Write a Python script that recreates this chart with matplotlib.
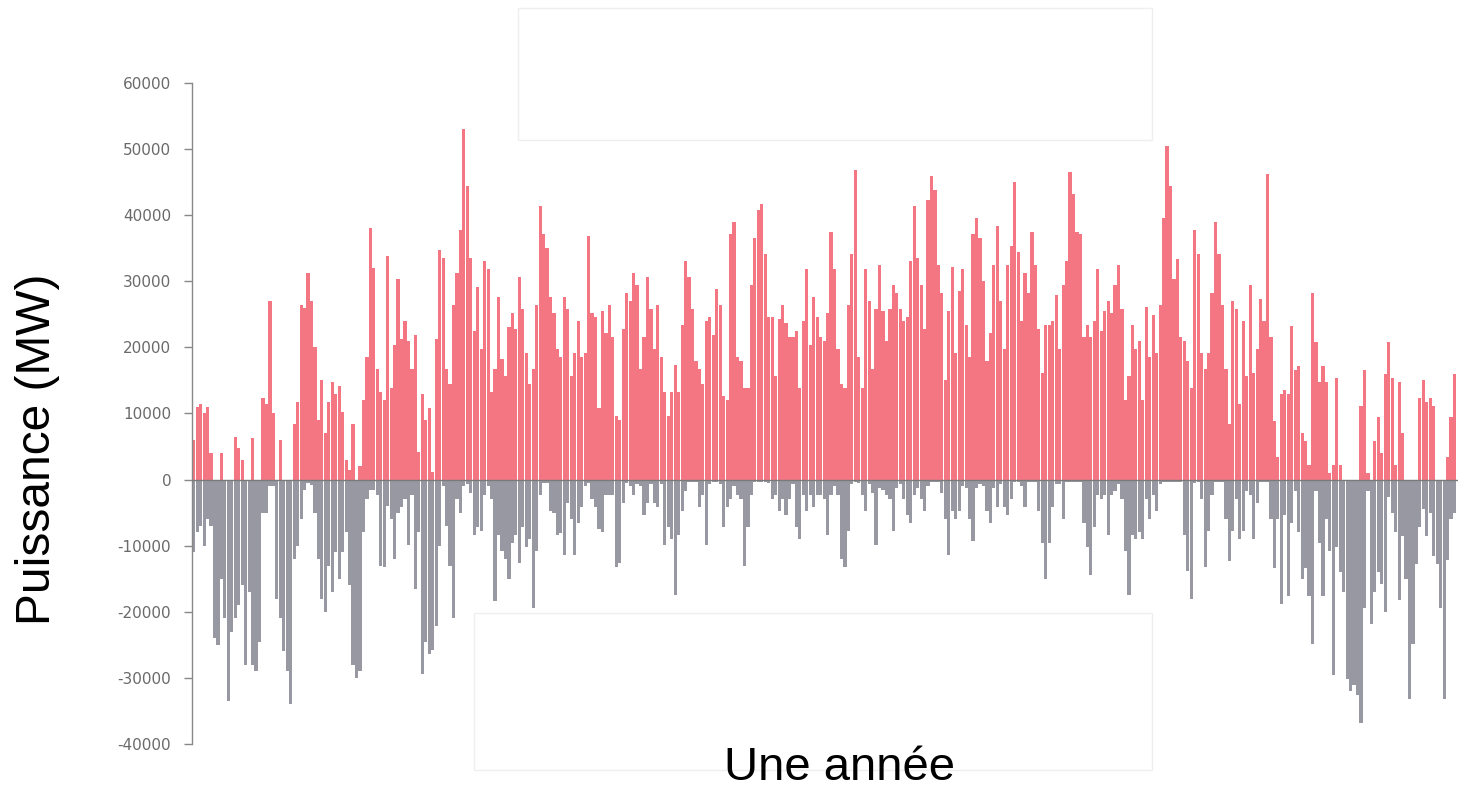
import matplotlib
matplotlib.use("Agg")
import matplotlib.pyplot as plt
from matplotlib.patches import Rectangle
import numpy as np

# Daily surplus (positive, MW) and deficit (negative, MW) over one year
surplus = [
    6000, 11000, 11500, 10000, 11000, 4000, 0, 0, 4000, 0,
    0, 0, 6500, 4800, 3000, 0, 0, 6300, 0, 0,
    12300, 11400, 27000, 10000, 0, 6000, 0, 0, 0, 8400,
    11700, 26400, 26000, 31200, 27000, 20000, 9000, 15000, 7000, 11700,
    14700, 13000, 14100, 10200, 3000, 1500, 8400, 0, 2000, 12000,
    18600, 38100, 32000,
    16800, 13200, 12000, 33900, 13800, 20400, 30300, 21300, 24000, 21000,
    16800, 21900, 4200, 12900, 9000, 10800, 1200, 21300, 34800, 33600,
    16800, 14400, 26400, 31200, 37800, 53100, 44400, 33600, 22500, 29100,
    19800, 33000, 31800, 13200, 16800, 27600, 18300, 15600, 23100, 25200,
    22800, 30600, 25800, 19200, 14400, 16800, 26400, 41400, 37200, 35100,
    27600, 25200,
    19800, 18600, 27600, 25800, 15600, 19200, 24000, 18600, 19200, 36900,
    25200, 24600, 10800, 25500, 22200, 26400, 21600, 9600, 9000, 22800,
    28200, 27000, 31200, 29400, 16800, 21600, 30600, 25800, 19800, 26400,
    18600, 13200, 9600, 13200, 17400, 13200, 23400, 33000, 30600, 25800,
    18000, 16800, 14400, 24000, 24600, 21900, 28800, 26400, 12600, 12000,
    37200,
    39000, 18600, 18000, 13800, 13800, 29400, 36600, 40800, 41700, 34200,
    24600, 24600, 15600, 24300, 26400, 23700, 21600, 21600, 22500, 13800,
    24000, 31800, 20400, 27600, 24600, 21600, 21000, 25200, 37500, 31800,
    19800, 14400, 13800, 26400, 34200, 46800, 18600, 13800, 31800, 27000,
    16800, 25800, 32400, 25500, 21000, 25800, 29400, 28200, 25800, 24000,
    24600, 33000,
    41400, 33600, 29400, 22800, 42300, 45900, 43800, 32400, 28200, 15000,
    25500, 32100, 19200, 28500, 31800, 23400, 18600, 37200, 39600, 36600,
    30000, 18000, 22200, 32400, 38400, 27000, 19800, 32400, 35400, 45000,
    34500, 24000, 31200, 28200, 37500, 32400, 22800, 16200, 23400, 23400,
    24000, 27900, 19800, 29400, 33000, 46500, 43200, 37500, 37200, 21600,
    23400, 21600,
    24000, 31800, 22500, 25500, 27000, 25200, 29400, 32400, 25800, 12000,
    15600, 23400, 19800, 21000, 12000, 26100, 18600, 24900, 19200, 26400,
    39600, 50400, 44400, 30300, 33300, 21600, 21000, 18000, 13800, 37800,
    34200, 19200, 16800, 19200, 28200, 39000, 34200, 26400, 16800, 8400,
    27000, 25800, 11400, 24000, 15600, 29400, 16200, 19800, 27300, 24000,
    46200, 21600,
    8800, 3400, 13000, 13600, 13000, 23200, 16600, 17200, 7000, 5800,
    2200, 28300, 20800, 14800, 17200, 14800, 1000, 2200, 15400, 2200,
    0, 0, 0, 0, 0, 11200, 16600, 1000, 0, 5800,
    9400, 4000, 16000, 20800, 15400, 2200, 14800, 7000, 0, 0,
    0, 0, 12400, 15000, 11800, 12400, 11200, 0, 0, 0,
    3400, 9400, 16000,
]

deficit = [
    -11000, -8000, -7000, -10000, -6000, -7000, -24000, -25000, -15000, -21000,
    -33500, -23000, -21000, -19000, -16000, -28000, -17000, -28000, -29000, -24500,
    -5000, -5000, -1000, -1000, -18000, -21000, -26000, -29000, -34000, -12000,
    -10000, -6000, -1500, -500, -800, -5000, -12000, -18000, -20000, -13000,
    -17000, -11000, -15000, -11000, -8000, -16000, -28000, -30000, -29000, -8000,
    -3000, -1500, -1500,
    -2400, -13000, -13200, -4000, -6000, -12000, -5000, -4200, -3000, -9900,
    -2400, -16500, -8000, -29400, -24600, -26400, -25800, -22200, -10000, -1000,
    -7000, -13000, -21000, -3000, -5000, -1000, -600, -2000, -8400, -7200,
    -7800, -2400, -1000, -3000, -18300, -8400, -10800, -12000, -15000, -9600,
    -8400, -12600, -7200, -10200, -9000, -19500, -10800, -2400, -500, -500,
    -4800, -5000,
    -8400, -8100, -11400, -3600, -6000, -11400, -6600, -4200, -1000, -500,
    -3000, -4200, -7500, -8000, -2400, -2400, -2400, -13200, -12600, -3600,
    -500, -1000, -2400, -600, -1000, -5400, -3600, -600, -3600, -4200,
    -600, -9900, -7200, -9000, -17400, -8400, -4800, -1800, -300, -300,
    -300, -4200, -2400, -9900, -600, -300, -300, -600, -7200, -4200,
    -3000,
    -1000, -2400, -3000, -13000, -7200, -2400, -300, -300, -300, -300,
    -500, -3000, -2400, -4800, -3000, -5400, -3000, -600, -7200, -9000,
    -2400, -4800, -2400, -4200, -2400, -2400, -3000, -8400, -2400, -1000,
    -2400, -12000, -13200, -7800, -600, -300, -500, -2400, -4800, -600,
    -2000, -9900, -1200, -1500, -2400, -3000, -7800, -1200, -600, -3000,
    -5400, -6600,
    -2400, -1200, -3000, -4800, -1000, -300, -300, -300, -2000, -6000,
    -11400, -4800, -6000, -4800, -1000, -1200, -6000, -9300, -1200, -600,
    -1000, -4800, -6600, -1200, -4200, -600, -4200, -5400, -3000, -300,
    -300, -1000, -4200, -300, -300, -300, -4800, -9600, -15000, -9600,
    -4200, -600, -600, -6000, -300, -300, -300, -300, -300, -6600,
    -10200, -14400,
    -7200, -2400, -3000, -2400, -8400, -2400, -1800, -600, -3000, -10800,
    -17400, -8400, -9000, -8000, -9000, -3000, -6000, -2400, -4800, -600,
    -300, -300, -300, -300, -300, -300, -8400, -13800, -18000, -500,
    -300, -3000, -13200, -7800, -2400, -300, -300, -300, -6000, -12300,
    -7800, -3000, -9000, -7800, -1800, -2400, -9000, -3600, -300, -300,
    -300, -6000,
    -13400, -6000, -18800, -5400, -17600, -6600, -1800, -8000, -15100, -13400,
    -17600, -24800, -1800, -9600, -17600, -6000, -10800, -29600, -10200, -14000,
    -17000, -30200, -32000, -31000, -32600, -36800, -19400, -1800, -21800, -17000,
    -14000, -15800, -20000, -2600, -5000, -8000, -18200, -8600, -15000, -33200,
    -24800, -12800, -7200, -4400, -8600, -5000, -11600, -12800, -19400, -33200,
    -12200, -6000, -5000,
]

y_ticks = [-40000, -30000, -20000, -10000, 0, 10000, 20000, 30000, 40000, 50000, 60000]
y_label = "Puissance (MW)"
x_label = "Une année"

days = np.arange(len(surplus))

W, H = 1468, 791
fig = plt.figure(figsize=(W / 100, H / 100), dpi=100)
fig.patch.set_facecolor("white")

# faint scan rectangles in the background
for (x0, y0, x1, y1) in [(518, 8, 1152, 140), (474, 613, 1152, 770)]:
    fig.patches.append(Rectangle((x0 / W, 1 - y1 / H), (x1 - x0) / W, (y1 - y0) / H,
                                 transform=fig.transFigure, fill=False,
                                 edgecolor="#efefef", lw=1.0, zorder=0))

ax = fig.add_axes([192 / W, 1 - 744 / H, 1266 / W, (744 - 83) / H])
ax.patch.set_alpha(0)

ax.bar(days, surplus, width=0.92, color="#f25866", alpha=0.82, linewidth=0, zorder=2)
ax.bar(days, deficit, width=0.92, color="#8a8a97", alpha=0.88, linewidth=0, zorder=2)
ax.axhline(0, color="#7a7a7a", lw=1.0, zorder=3)

ax.set_xlim(-0.5, 365)
ax.set_ylim(-40000, 60000)
ax.set_yticks(y_ticks)
ax.set_yticklabels([str(t) for t in y_ticks])
ax.set_xticks([])
for s in ["top", "right", "bottom"]:
    ax.spines[s].set_visible(False)
ax.spines["left"].set_color("#888888")
ax.spines["left"].set_linewidth(1.0)
ax.tick_params(axis="y", length=6, width=1, color="#888888", pad=9,
               labelsize=11, labelcolor="#6a6a6a")

fig.text(38 / W, 1 - 449.5 / H, y_label, rotation=90, ha="center", va="center",
         fontsize=34.5, family="Liberation Sans", color="black")
fig.text(839.5 / W, 1 - 780 / H, x_label, ha="center", va="baseline",
         fontsize=34, family="Liberation Sans", color="black")

fig.savefig("out.png", dpi=100)
